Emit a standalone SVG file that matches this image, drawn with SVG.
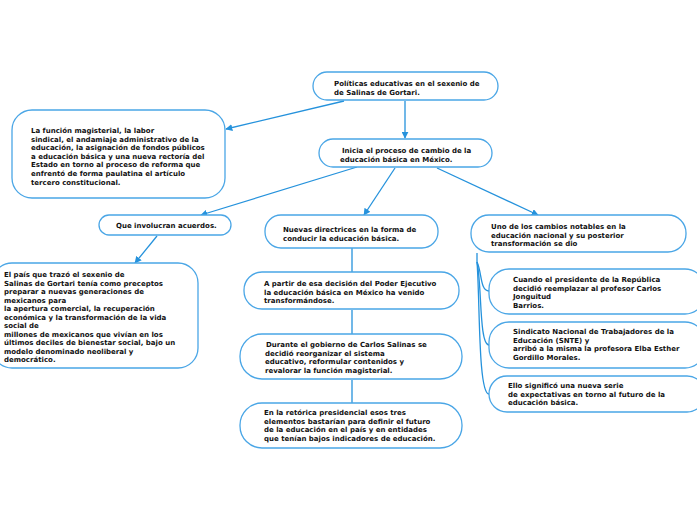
<svg xmlns="http://www.w3.org/2000/svg" width="697" height="520" viewBox="0 0 697 520">
<style>
.n rect{fill:#fff;stroke:#4aa6e6;stroke-width:1.3}
.n text{font-family:"DejaVu Sans",Verdana,sans-serif;font-weight:bold;font-size:7px;fill:#111}
.c path,.c line{fill:none;stroke:#2592dc;stroke-width:1.3}
</style>
<defs>
<marker id="ar" viewBox="0 0 10 10" refX="9" refY="5" markerWidth="7" markerHeight="7" orient="auto" markerUnits="userSpaceOnUse">
<path d="M0,0 L10,5 L0,10 z" fill="#2592dc"/>
</marker>
</defs>
<rect width="697" height="520" fill="#fff"/>
<g class="c" id="connectors">
<line x1="344" y1="101" x2="226" y2="129" marker-end="url(#ar)"/>
<line x1="405" y1="101" x2="405" y2="138" marker-end="url(#ar)"/>
<line x1="357" y1="167" x2="201" y2="215" marker-end="url(#ar)"/>
<line x1="395" y1="168" x2="364" y2="215" marker-end="url(#ar)"/>
<line x1="437" y1="168" x2="538" y2="215" marker-end="url(#ar)"/>
<line x1="157" y1="236" x2="135" y2="263" marker-end="url(#ar)"/>
<line x1="352" y1="248" x2="352" y2="272"/>
<line x1="352" y1="310" x2="352" y2="334"/>
<line x1="352" y1="380" x2="352" y2="403"/>
<path d="M477,253 L477,262 C482,272 480,291 489,291"/>
<path d="M477,262 C482,285 479,345 489,345"/>
<path d="M477,262 C480,300 478,394 489,394"/>
</g>
<g class="n" id="n-root">
<rect x="313" y="72" width="185" height="28" rx="14"/>
<text x="334" y="86"><tspan x="334">Políticas educativas en el sexenio de</tspan><tspan x="334" dy="8.7">de Salinas de Gortari.</tspan></text>
</g>
<g class="n" id="n-inicia">
<rect x="319" y="139" width="173" height="28" rx="14"/>
<text x="342" y="153"><tspan x="342">Inicia el proceso de cambio de la</tspan><tspan x="340" dy="8.7">educación básica en México.</tspan></text>
</g>
<g class="n" id="n-funcion">
<rect x="12" y="110" width="213" height="88" rx="20"/>
<text x="31" y="133"><tspan x="31">La función magisterial, la labor</tspan><tspan x="31" dy="8.6">sindical, el andamiaje administrativo de la</tspan><tspan x="31" dy="8.6">educación, la asignación de fondos públicos</tspan><tspan x="31" dy="8.6">a educación básica y una nueva rectoría del</tspan><tspan x="31" dy="8.6">Estado en torno al proceso de reforma que</tspan><tspan x="31" dy="8.6">enfrentó de forma paulatina el artículo</tspan><tspan x="31" dy="8.6">tercero constitucional.</tspan></text>
</g>
<g class="n" id="n-acuerdos">
<rect x="99" y="215" width="132" height="20" rx="10"/>
<text x="116" y="228">Que involucran acuerdos.</text>
</g>
<g class="n" id="n-nuevas">
<rect x="265" y="215" width="173" height="33" rx="16"/>
<text x="283" y="232"><tspan x="283">Nuevas directrices en la forma de</tspan><tspan x="283" dy="8.7">conducir la educación básica.</tspan></text>
</g>
<g class="n" id="n-uno">
<rect x="471" y="215" width="215" height="37" rx="18"/>
<text x="491" y="229"><tspan x="491">Uno de los cambios notables en la</tspan><tspan x="491" dy="8.7">educación nacional y su posterior</tspan><tspan x="491" dy="8.7">transformación se dio</tspan></text>
</g>
<g class="n" id="n-pais">
<rect x="-8" y="263" width="206" height="105" rx="20"/>
<text x="4" y="277"><tspan x="4">El país que trazó el sexenio de</tspan><tspan x="4" dy="8.5">Salinas de Gortari tenía como preceptos</tspan><tspan x="4" dy="8.5">preparar a nuevas generaciones de</tspan><tspan x="4" dy="8.5">mexicanos para</tspan><tspan x="4" dy="8.5">la apertura comercial, la recuperación</tspan><tspan x="4" dy="8.5">económica y la transformación de la vida</tspan><tspan x="4" dy="8.5">social de</tspan><tspan x="4" dy="8.5">millones de mexicanos que vivían en los</tspan><tspan x="4" dy="8.5">últimos deciles de bienestar social, bajo un</tspan><tspan x="4" dy="8.5">modelo denominado neoliberal y</tspan><tspan x="4" dy="8.5">democrático.</tspan></text>
</g>
<g class="n" id="n-apartir">
<rect x="244" y="272" width="215" height="37" rx="18"/>
<text x="264" y="286"><tspan x="264">A partir de esa decisión del Poder Ejecutivo</tspan><tspan x="264" dy="8.7">la educación básica en México ha venido</tspan><tspan x="264" dy="8.7">transformándose.</tspan></text>
</g>
<g class="n" id="n-durante">
<rect x="240" y="334" width="222" height="45" rx="22"/>
<text x="266" y="347"><tspan x="266"> Durante el gobierno de Carlos Salinas se</tspan><tspan x="265" dy="8.7">decidió reorganizar el sistema</tspan><tspan x="265" dy="8.7">educativo, reformular contenidos y</tspan><tspan x="265" dy="8.7">revalorar la función magisterial.</tspan></text>
</g>
<g class="n" id="n-retorica">
<rect x="240" y="403" width="222" height="45" rx="22"/>
<text x="264" y="415"><tspan x="264">En la retórica presidencial esos tres</tspan><tspan x="264" dy="8.7">elementos bastarían para definir el futuro</tspan><tspan x="264" dy="8.7">de la educación en el país y en entidades</tspan><tspan x="264" dy="8.7">que tenían bajos indicadores de educación.</tspan></text>
</g>
<g class="n" id="n-cuando">
<rect x="489" y="269" width="216" height="45" rx="20"/>
<text x="513" y="282"><tspan x="513">Cuando el presidente de la República</tspan><tspan x="513" dy="8.7">decidió reemplazar al profesor Carlos</tspan><tspan x="513" dy="8.7">Jonguitud</tspan><tspan x="513" dy="8.7">Barrios.</tspan></text>
</g>
<g class="n" id="n-sindicato">
<rect x="489" y="322" width="216" height="46" rx="20"/>
<text x="513" y="334"><tspan x="513">Sindicato Nacional de Trabajadores de la</tspan><tspan x="513" dy="8.7">Educación (SNTE) y</tspan><tspan x="513" dy="8.7">arribó a la misma la profesora Elba Esther</tspan><tspan x="513" dy="8.7">Gordillo Morales.</tspan></text>
</g>
<g class="n" id="n-ello">
<rect x="489" y="376" width="216" height="36" rx="18"/>
<text x="508" y="388"><tspan x="508">Ello significó una nueva serie</tspan><tspan x="508" dy="8.7">de expectativas en torno al futuro de la</tspan><tspan x="508" dy="8.7">educación básica.</tspan></text>
</g>
</svg>
